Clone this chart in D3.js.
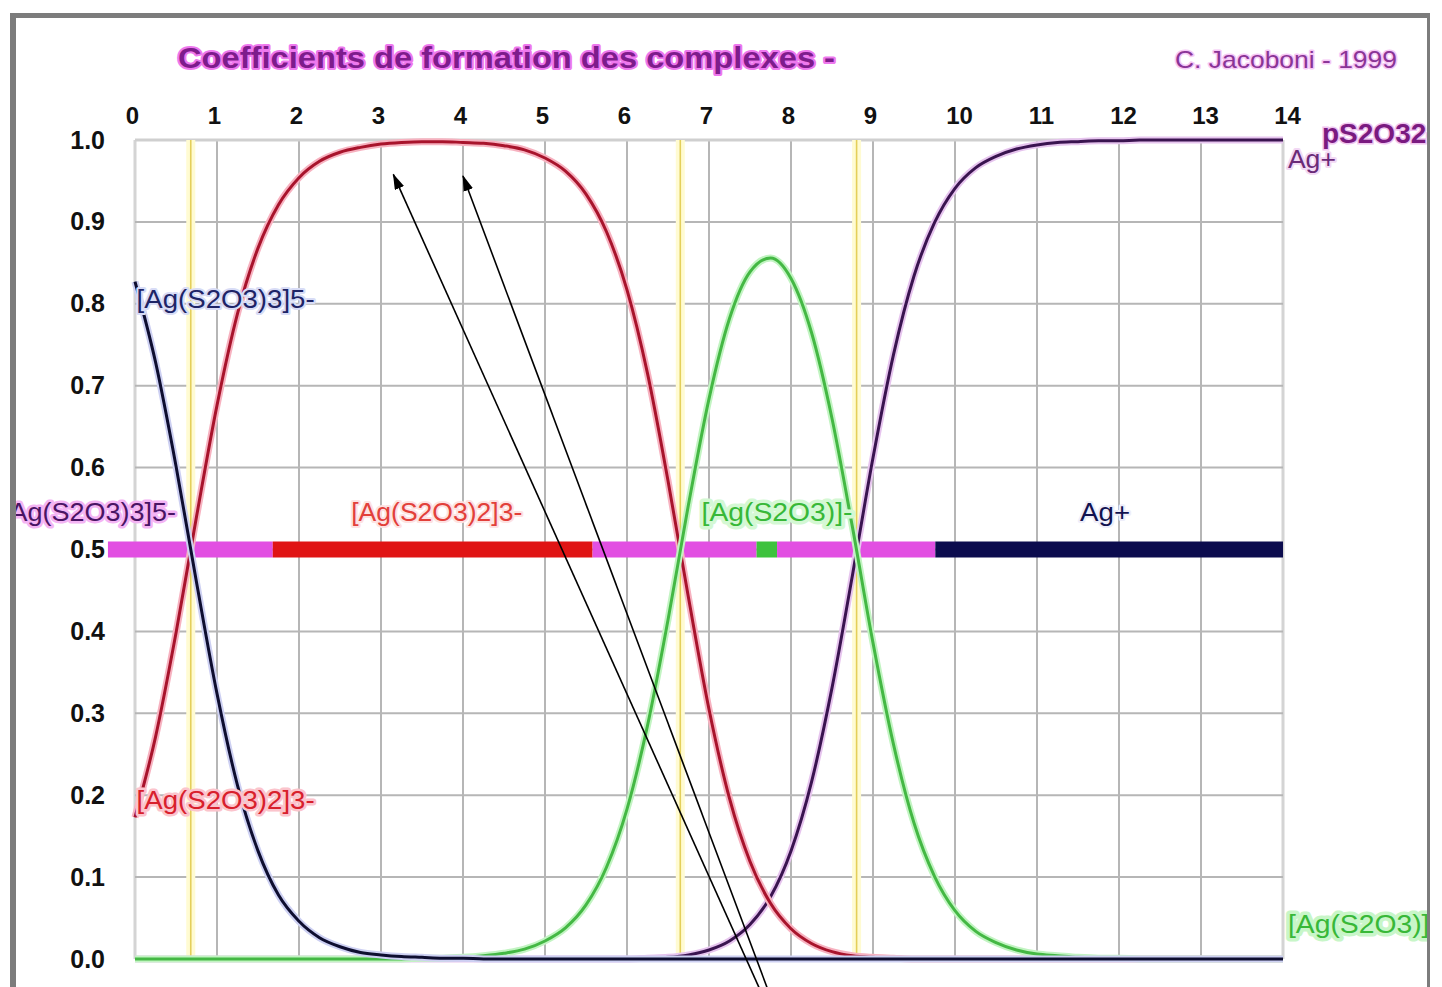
<!DOCTYPE html>
<html>
<head>
<meta charset="utf-8">
<title>Coefficients de formation des complexes</title>
<script src="https://cdn.jsdelivr.net/npm/d3@7"></script>
<style>
  body { margin: 0; background: #fff; }
  svg { display: block; font-family: "Liberation Sans", Arial, Helvetica, sans-serif; }
</style>
</head>
<body>
<svg id="chart" width="1442" height="987"></svg>
<script>
// pS2O3 (= -log[S2O3 2-]) sampling grid
const pS = [
  0, 0.25, 0.5, 0.75, 1, 1.25, 1.5, 1.75, 2, 2.25, 2.5, 2.75, 3, 3.25, 3.5, 3.75,
  4, 4.25, 4.5, 4.75, 5, 5.25, 5.5, 5.75, 6, 6.25, 6.5, 6.75, 7, 7.25, 7.5, 7.75,
  8, 8.25, 8.5, 8.75, 9, 9.25, 9.5, 9.75, 10, 10.25, 10.5, 10.75, 11, 11.25, 11.5, 11.75,
  12, 12.25, 12.5, 12.75, 13, 13.25, 13.5, 13.75, 14
];

// fraction of [Ag(S2O3)3]5-
const fracAgL3 = [
  0.827, 0.729, 0.602, 0.460, 0.324, 0.212, 0.132, 0.078, 0.046, 0.026, 0.015, 0.008, 0.005, 0.003, 0.002, 0.001,
  0.001, 0, 0, 0, 0, 0, 0, 0, 0, 0, 0, 0, 0, 0, 0, 0,
  0, 0, 0, 0, 0, 0, 0, 0, 0, 0, 0, 0, 0, 0, 0, 0,
  0, 0, 0, 0, 0, 0, 0, 0, 0
];

// fraction of [Ag(S2O3)2]3-
const fracAgL2 = [
  0.173, 0.271, 0.398, 0.540, 0.676, 0.788, 0.868, 0.921, 0.954, 0.974, 0.985, 0.991, 0.995, 0.997, 0.998, 0.998,
  0.997, 0.996, 0.993, 0.988, 0.978, 0.962, 0.934, 0.888, 0.817, 0.715, 0.584, 0.441, 0.305, 0.196, 0.119, 0.068,
  0.037, 0.019, 0.009, 0.004, 0.002, 0.001, 0, 0, 0, 0, 0, 0, 0, 0, 0, 0,
  0, 0, 0, 0, 0, 0, 0, 0, 0
];

// fraction of [Ag(S2O3)]-
const fracAgL1 = [
  0, 0, 0, 0, 0, 0, 0, 0, 0, 0, 0, 0, 0, 0, 0.001, 0.001,
  0.002, 0.004, 0.007, 0.012, 0.022, 0.038, 0.066, 0.112, 0.183, 0.285, 0.414, 0.555, 0.684, 0.782, 0.839, 0.856,
  0.831, 0.765, 0.660, 0.527, 0.386, 0.262, 0.166, 0.101, 0.059, 0.034, 0.020, 0.011, 0.006, 0.004, 0.002, 0.001,
  0.001, 0, 0, 0, 0, 0, 0, 0, 0
];

// fraction of free Ag+
const fracAg = [
  0, 0, 0, 0, 0, 0, 0, 0, 0, 0, 0, 0, 0, 0, 0, 0,
  0, 0, 0, 0, 0, 0, 0, 0, 0, 0.001, 0.002, 0.005, 0.011, 0.022, 0.042, 0.076,
  0.132, 0.216, 0.331, 0.469, 0.612, 0.738, 0.834, 0.899, 0.941, 0.966, 0.980, 0.989, 0.994, 0.997, 0.998, 0.999,
  0.999, 1, 1, 1, 1, 1, 1, 1, 1
];

// successive log K (half-conversion points)
const logK = [0.68, 6.65, 8.8];

// predominance strip at 0.5
const zoneFrom    = [-0.33, 1.68, 5.58, 7.58, 7.83, 9.76];
const zoneTo      = [1.68, 5.58, 7.58, 7.83, 9.76, 14];
const zoneSpecies = ["mix", "L2", "mix", "L1", "mix", "Ag"];

// tick labels
const xTickValues = [0, 1, 2, 3, 4, 5, 6, 7, 8, 9, 10, 11, 12, 13, 14];
const yTickValues = [0, 0.1, 0.2, 0.3, 0.4, 0.5, 0.6, 0.7, 0.8, 0.9, 1.0];
const yTickLabels = ["0.0", "0.1", "0.2", "0.3", "0.4", "0.5", "0.6", "0.7", "0.8", "0.9", "1.0"];

// species labels: text, pS, fraction, kind
const labelText  = ["[Ag(S2O3)3]5-", "[Ag(S2O3)2]3-", "[Ag(S2O3)3]5-", "[Ag(S2O3)2]3-", "[Ag(S2O3)]-", "Ag+", "Ag+", "[Ag(S2O3)]-"];
const labelPS    = [0.02, 0.02, 0.5, 3.68, 7.83, 11.83, 14.06, 14.06];
const labelFrac  = [0.806, 0.194, 0.546, 0.546, 0.546, 0.546, 0.977, 0.043];
const labelKind  = ["L3", "L2", "L3mid", "L2mid", "L1mid", "Agmid", "Ag", "L1"];

// annotation arrows (tail -> head), in pS / fraction units
const arrowTailPS   = [7.66, 7.75];
const arrowTailFrac = [-0.046, -0.046];
const arrowHeadPS   = [3.15, 4.0];
const arrowHeadFrac = [0.958, 0.956];

// ---------------- drawing ----------------
const svg = d3.select("#chart");
const x = d3.scaleLinear().domain([0, 14]).range([135, 1283]);
const y = d3.scaleLinear().domain([0, 1]).range([959, 140]);

const zoneColor = { mix: "#e24fe2", L2: "#e01414", L1: "#3ec23e", Ag: "#0c0c4e" };

const defs = svg.append("defs");
defs.append("clipPath").attr("id", "frameClip")
  .append("rect").attr("x", 10).attr("y", 0).attr("width", 1417).attr("height", 987);
defs.append("marker")
  .attr("id", "head").attr("markerUnits", "userSpaceOnUse")
  .attr("viewBox", "0 0 16 10").attr("refX", 15).attr("refY", 5)
  .attr("markerWidth", 16).attr("markerHeight", 10).attr("orient", "auto")
  .append("path").attr("d", "M0,0 L16,5 L0,10 Z").attr("fill", "#000");

const root = svg.append("g").attr("clip-path", "url(#frameClip)");

// grid
const grid = root.append("g");
grid.selectAll("line.v").data(xTickValues).join("line")
  .attr("x1", d => x(d)).attr("x2", d => x(d))
  .attr("y1", y(1)).attr("y2", y(0))
  .attr("stroke", d => (d === 0 || d === 14) ? "#d4d4d4" : "#b6b6b6")
  .attr("stroke-width", d => (d === 0 || d === 14) ? 3 : 2);
grid.selectAll("line.h").data(yTickValues).join("line")
  .attr("x1", x(0)).attr("x2", x(14))
  .attr("y1", d => y(d)).attr("y2", d => y(d))
  .attr("stroke", d => d === 1 ? "#cfcfcf" : "#b6b6b6")
  .attr("stroke-width", d => d === 1 ? 3 : 2);

// log K markers
const kLines = root.append("g");
kLines.selectAll("line.glow").data(logK).join("line")
  .attr("x1", d => x(d)).attr("x2", d => x(d)).attr("y1", y(1)).attr("y2", y(0))
  .attr("stroke", "#fffbd2").attr("stroke-width", 9);
kLines.selectAll("line.core").data(logK).join("line")
  .attr("x1", d => x(d)).attr("x2", d => x(d)).attr("y1", y(1)).attr("y2", y(0))
  .attr("stroke", "#e4cf5a").attr("stroke-width", 1.6);

// predominance strip
root.append("g").selectAll("rect").data(zoneSpecies).join("rect")
  .attr("x", (d, i) => x(zoneFrom[i]))
  .attr("width", (d, i) => x(zoneTo[i]) - x(zoneFrom[i]))
  .attr("y", y(0.5) - 8).attr("height", 16)
  .attr("fill", d => zoneColor[d]);

// distribution curves
const series = [
  { vals: fracAg,   core: "#3a1450", halo: "#e6c4ee" },
  { vals: fracAgL2, core: "#a8142c", halo: "#f7b2c0" },
  { vals: fracAgL1, core: "#44b844", halo: "#c2f4c2" },
  { vals: fracAgL3, core: "#0e0e30", halo: "#cdd0f2" }
];
const line = d3.line()
  .x((d, i) => x(pS[i]))
  .y(d => y(d))
  .curve(d3.curveMonotoneX);
const curves = root.append("g").attr("fill", "none").attr("stroke-linejoin", "round");
series.forEach(s => {
  curves.append("path").attr("d", line(s.vals)).attr("stroke", s.halo).attr("stroke-width", 7);
  curves.append("path").attr("d", line(s.vals)).attr("stroke", s.core).attr("stroke-width", 3);
});

// axes
const xAxis = d3.axisTop(x).tickValues(xTickValues).tickSize(0).tickPadding(0).tickFormat(d => String(d));
const gx = root.append("g").attr("transform", "translate(0,124)").call(xAxis);
gx.select(".domain").remove();
gx.selectAll("text")
  .attr("font-family", "'Liberation Sans', Arial, sans-serif")
  .attr("font-size", 24).attr("font-weight", "bold").attr("fill", "#111")
  .attr("dx", d => d < 10 ? -3 : 4);

const yAxis = d3.axisLeft(y).tickValues(yTickValues).tickSize(0).tickPadding(30)
  .tickFormat((d, i) => yTickLabels[i]);
const gy = root.append("g").attr("transform", `translate(${x(0)},0)`).call(yAxis);
gy.select(".domain").remove();
gy.selectAll("text")
  .attr("font-family", "'Liberation Sans', Arial, sans-serif")
  .attr("font-size", 25).attr("font-weight", "bold").attr("fill", "#111");

// species labels
const labelStyle = {
  L3:    { fill: "#1e2466", halo: "#d8dcf6", anchor: "start",  len: 178, sw: 4 },
  L2:    { fill: "#d8202c", halo: "#fbc4cc", anchor: "start",  len: 178, sw: 5 },
  L3mid: { fill: "#4a1464", halo: "#f4b4f4", anchor: "end",    len: 174, sw: 5 },
  L2mid: { fill: "#e2403a", halo: "#fde2e2", anchor: "middle", len: 171, sw: 4 },
  L1mid: { fill: "#38b838", halo: "#d4f8d4", anchor: "middle", len: 151, sw: 7 },
  Agmid: { fill: "#121250", halo: "#eeeefa", anchor: "middle", len: 50,  sw: 4 },
  Ag:    { fill: "#6a2a78", halo: "#f2d8f4", anchor: "start",  len: 48,  sw: 4 },
  L1:    { fill: "#38b838", halo: "#c8f6c8", anchor: "start",  len: 151, sw: 7 }
};
root.append("g").selectAll("text").data(labelText).join("text")
  .attr("x", (d, i) => x(labelPS[i]))
  .attr("y", (d, i) => y(labelFrac[i]))
  .attr("dy", "0.35em")
  .attr("text-anchor", (d, i) => labelStyle[labelKind[i]].anchor)
  .attr("font-size", 25)
  .attr("textLength", (d, i) => labelStyle[labelKind[i]].len)
  .attr("lengthAdjust", "spacingAndGlyphs")
  .attr("fill", (d, i) => labelStyle[labelKind[i]].fill)
  .attr("stroke", (d, i) => labelStyle[labelKind[i]].halo)
  .attr("stroke-width", (d, i) => labelStyle[labelKind[i]].sw).attr("stroke-linejoin", "round")
  .attr("paint-order", "stroke")
  .text(d => d);

// axis name
root.append("text")
  .attr("x", x(14) + 39).attr("y", y(1) - 7)
  .attr("dy", "0.35em")
  .attr("font-size", 28).attr("font-weight", "bold")
  .attr("fill", "#7a1a80").attr("stroke", "#f0c4f0").attr("stroke-width", 3)
  .attr("paint-order", "stroke")
  .text("pS2O32-");

// titles
root.append("text")
  .attr("x", 178).attr("y", 58).attr("dy", "0.35em")
  .attr("font-size", 29).attr("font-weight", "bold")
  .attr("textLength", 657).attr("lengthAdjust", "spacingAndGlyphs")
  .attr("fill", "#7e1c8c").attr("stroke", "#ee78ee").attr("stroke-width", 4)
  .attr("stroke-linejoin", "round").attr("paint-order", "stroke")
  .text("Coefficients de formation des complexes -");
root.append("text")
  .attr("x", 1175).attr("y", 60).attr("dy", "0.35em")
  .attr("font-size", 24)
  .attr("textLength", 222).attr("lengthAdjust", "spacingAndGlyphs")
  .attr("fill", "#8a3496").attr("stroke", "#f6c8f6").attr("stroke-width", 3)
  .attr("stroke-linejoin", "round").attr("paint-order", "stroke")
  .text("C. Jacoboni - 1999");

// arrows
root.append("g").selectAll("line").data(arrowHeadPS).join("line")
  .attr("x1", (d, i) => x(arrowTailPS[i])).attr("y1", (d, i) => y(arrowTailFrac[i]))
  .attr("x2", (d, i) => x(arrowHeadPS[i])).attr("y2", (d, i) => y(arrowHeadFrac[i]))
  .attr("stroke", "#000").attr("stroke-width", 1.6)
  .attr("marker-end", "url(#head)");

// frame
const frame = svg.append("g").attr("stroke", "#7c7c7c").attr("fill", "none");
frame.append("line").attr("x1", 10).attr("x2", 1430).attr("y1", 15.5).attr("y2", 15.5).attr("stroke-width", 5);
frame.append("line").attr("x1", 13).attr("x2", 13).attr("y1", 13).attr("y2", 987).attr("stroke-width", 6);
frame.append("line").attr("x1", 1428.5).attr("x2", 1428.5).attr("y1", 13).attr("y2", 987).attr("stroke-width", 3);
</script>
</body>
</html>
